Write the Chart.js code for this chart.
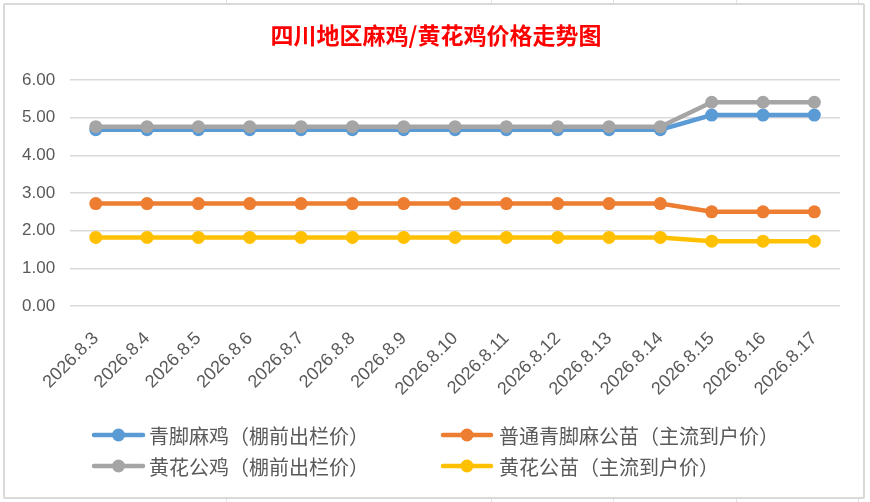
<!DOCTYPE html>
<html>
<head>
<meta charset="utf-8">
<script src="https://cdn.jsdelivr.net/npm/chart.js@4.4.1/dist/chart.umd.min.js"></script>
<style>
  html, body { margin: 0; padding: 0; width: 870px; height: 502px; overflow: hidden; background: #fff; }
  #bg { position: absolute; left: 0; top: 0; width: 870px; height: 502px;
    background-image:
      linear-gradient(to bottom, transparent 0, transparent 40px, #e2e2e2 40px, #e2e2e2 41px, transparent 41px);
    background-size: 870px 36px; background-position: 0 0; }
  .vl { position: absolute; top: 0; width: 1px; height: 502px; background: #e2e2e2; }
  #box { position: absolute; left: 3px; top: 3px; width: 858px; height: 492px; border: 2px solid #d9d9d9; border-radius: 2px; background: #fff; }
  #wrap { position: absolute; left: 0; top: 0; width: 870px; height: 502px; }
</style>
</head>
<body>
<div id="bg"></div>
<div class="vl" style="left:226px"></div>
<div class="vl" style="left:491px"></div>
<div class="vl" style="left:613px"></div>
<div class="vl" style="left:736px"></div>
<div class="vl" style="left:858px"></div>
<div id="box"></div>
<div id="wrap"><canvas id="c" width="870" height="502"></canvas></div>
<script>
const categories = ['2026.8.3','2026.8.4','2026.8.5','2026.8.6','2026.8.7','2026.8.8','2026.8.9','2026.8.10','2026.8.11','2026.8.12','2026.8.13','2026.8.14','2026.8.15','2026.8.16','2026.8.17'];
const qingjiaoMaji = [4.68,4.68,4.68,4.68,4.68,4.68,4.68,4.68,4.68,4.68,4.68,4.68,5.07,5.07,5.07];
const putongMagongmiao = [2.72,2.72,2.72,2.72,2.72,2.72,2.72,2.72,2.72,2.72,2.72,2.72,2.50,2.50,2.50];
const huanghuaGongji = [4.76,4.76,4.76,4.76,4.76,4.76,4.76,4.76,4.76,4.76,4.76,4.76,5.41,5.41,5.41];
const huanghuaGongmiao = [1.82,1.82,1.82,1.82,1.82,1.82,1.82,1.82,1.82,1.82,1.82,1.82,1.72,1.72,1.72];
const seriesNames = ['青脚麻鸡（棚前出栏价）','普通青脚麻公苗（主流到户价）','黄花公鸡（棚前出栏价）','黄花公苗（主流到户价）'];
const yTicks = [0,1,2,3,4,5,6];
const titleText = '四川地区麻鸡/黄花鸡价格走势图';

const colors = ['#5B9BD5','#ED7D31','#A5A5A5','#FFC000'];
const seriesData = [qingjiaoMaji, putongMagongmiao, huanghuaGongji, huanghuaGongmiao];
const drawOrder = [4,3,2,1];

const datasets = seriesData.map((d, i) => ({
  label: seriesNames[i],
  data: d,
  borderColor: colors[i],
  backgroundColor: colors[i],
  borderWidth: 4.5,
  pointRadius: 6.5,
  pointHoverRadius: 6.5,
  pointBorderWidth: 0,
  pointBackgroundColor: colors[i],
  tension: 0,
  order: drawOrder[i]
}));

const titleAndLegendPlugin = {
  id: 'titleAndLegend',
  afterDraw(chart) {
    const ctx = chart.ctx;
    ctx.save();
    // title
    ctx.fillStyle = '#FF0000';
    ctx.font = 'bold 23px "Noto Sans CJK SC", sans-serif';
    ctx.textAlign = 'center';
    ctx.textBaseline = 'middle';
    ctx.fillText(titleText, 436, 35);
    // legend (2 x 2 grid)
    const cols = [{lx: 94, rx: 143, tx: 149}, {lx: 443, rx: 491, tx: 499}];
    const rows = [435, 466];
    chart.data.datasets.forEach((ds, i) => {
      const c = cols[i % 2];
      const y = rows[Math.floor(i / 2)];
      ctx.strokeStyle = ds.borderColor;
      ctx.lineWidth = 4.5;
      ctx.lineCap = 'round';
      ctx.beginPath();
      ctx.moveTo(c.lx, y);
      ctx.lineTo(c.rx, y);
      ctx.stroke();
      ctx.fillStyle = ds.borderColor;
      ctx.beginPath();
      ctx.arc((c.lx + c.rx) / 2, y, 6.5, 0, Math.PI * 2);
      ctx.fill();
      ctx.fillStyle = '#595959';
      ctx.font = '20px "Noto Sans CJK SC", sans-serif';
      ctx.textBaseline = 'middle';
      ctx.textAlign = 'left';
      ctx.fillText(ds.label, c.tx, y + 1);
    });
    ctx.restore();
  }
};

new Chart(document.getElementById('c'), {
  type: 'line',
  data: { labels: categories, datasets },
  options: {
    responsive: false,
    animation: false,
    devicePixelRatio: 1,
    layout: { padding: { left: 7, right: 30, top: 80, bottom: 106 } },
    plugins: {
      legend: { display: false },
      tooltip: { enabled: false },
      title: { display: false }
    },
    scales: {
      x: {
        offset: true,
        grid: { display: false },
        border: { display: false },
        ticks: {
          color: '#595959',
          font: { family: '"Liberation Sans", Arial, sans-serif', size: 18 },
          minRotation: 45, maxRotation: 45,
          padding: 14,
          autoSkip: false
        },
        afterFit(scale) { scale.height = 90; }
      },
      y: {
        min: 0, max: 6,
        afterBuildTicks(scale) { scale.ticks = yTicks.map(v => ({ value: v })); },
        grid: { color: '#d9d9d9', lineWidth: 1.5, drawTicks: false },
        border: { display: false },
        ticks: {
          color: '#595959',
          font: { family: '"Liberation Sans", Arial, sans-serif', size: 17 },
          padding: 15,
          callback: v => Number(v).toFixed(2)
        }
      }
    }
  },
  plugins: [titleAndLegendPlugin]
});
</script>
</body>
</html>
